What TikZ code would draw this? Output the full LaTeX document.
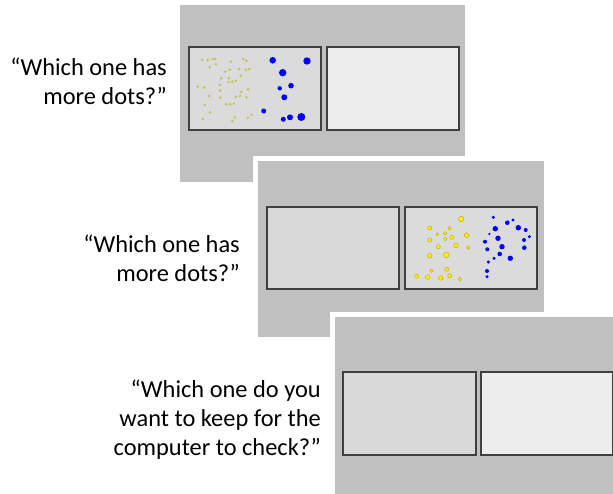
\documentclass[tikz,border=0pt]{standalone}
\usepackage{fontspec}
\setmainfont{Carlito}
\usepackage{tikz}
\usetikzlibrary{positioning}

\definecolor{panelgray}{HTML}{C0C0C0}
\definecolor{framegray}{HTML}{404040}
\definecolor{olivedot}{RGB}{200,192,80}
\definecolor{dotyellow}{HTML}{FFF000}
\definecolor{dotedge}{HTML}{C8B000}

\begin{document}
\begin{tikzpicture}[x=1pt, y=-1pt,
    panel/.style={fill=panelgray, draw=white, line width=5pt},
    screen/.style={draw=framegray, line width=1.5pt},
    prompt/.style={font=\fontsize{24.4}{29}\selectfont, align=right, anchor=base east, inner sep=0pt}]
    \useasboundingbox[fill=white] (0,0) rectangle (613,494);

    % first trial
    \draw[panel] (177.5,2.5) rectangle (467.5,184.5);
    \draw[screen, fill=black!14] (189,47) rectangle (321,130);
    \draw[screen, fill=black!7] (327,47) rectangle (459,130);
    \foreach \x/\y in {202/59.7, 207.7/60.3, 212.7/59, 215.3/59, 231/61.7, 243.3/59, 246.3/60.7,
        209.7/67.3, 216/64.3, 225.3/71.7, 229.7/69.7, 239.3/69, 245.7/69.7, 249.3/69,
        221.3/78.3, 228.7/78.3, 240.7/75.7, 228.3/82, 232.3/81.7, 236/80.7, 219.7/85,
        248/89.3, 197.7/86.7, 204.3/87.7, 220.3/90.7, 241.3/91.7, 208.7/96, 220.3/97.7,
        235.7/96.7, 240/96, 246.3/97.3, 204.7/105, 226.3/104.3, 230.3/104.3, 233.7/103.7,
        210/112.3, 234.7/117.3, 232.3/121, 247.7/117.7, 251.7/114.7, 203/119.3}
        \fill[olivedot] (\x,\y) circle (1.4pt);
    \foreach \x/\y/\r in {272.7/60.3/3.3, 307/61/3.7, 282.7/72.7/3.7, 291/85.7/2.8,
        279.7/88.3/2.2, 284.3/97.3/3, 263.7/111/2.5, 283.3/119.3/2.5, 290/117.3/3, 301.3/117/4}
        \fill[blue] (\x,\y) circle (\r pt);
    \node[prompt] (q1) at (167,105) {“Which one has\\ more dots?”};

    % second trial
    \draw[panel] (255.5,158.5) rectangle (546.5,339.5);
    \draw[screen, fill=black!15] (267,207) rectangle (399,289);
    \draw[screen, fill=black!14] (405,207) rectangle (537,289);
    \foreach \x/\y/\r in {461.3/219/2.7, 429.7/228/2, 449.7/228.3/1.7, 437.3/234.3/1.5,
        445/233.3/1.7, 451.7/237.3/2, 466.7/235.3/2.3, 429.7/240/2, 445.3/239/1.7,
        456/245.3/2.3, 438.3/246.7/2, 468.3/247.7/1.7, 429.7/255.7/2.3, 446.3/255/2.7,
        446.7/269.3/2, 431.3/270.7/1.7, 416.7/276.3/2, 427.7/277/2.3, 440.7/278/2.3,
        449.7/275.7/2, 459.7/279/1.7}
        \filldraw[fill=dotyellow, draw=dotedge, line width=0.5pt] (\x,\y) circle (\r pt);
    \foreach \x/\y/\r in {493.3/217.3/1.7, 507.3/222.7/2.3, 513/220/1.7, 495.3/228.7/2.7,
        518.3/227.7/2.7, 525.7/230/2, 489.3/234/1.3, 498/238.3/2.7, 529.3/236.7/1.7,
        485/241.7/2, 524/240/2, 502/246.7/2.7, 487.3/249.3/2, 524.3/247.7/2.3,
        499.7/254/2.3, 494/258.3/1.7, 510.3/258.3/2.7, 488.3/262/1.7, 487/271/2, 487/276.7/1.7}
        \fill[blue] (\x,\y) circle (\r pt);
    \node[prompt] (q2) at (240,282) {“Which one has\\ more dots?”};

    % third trial
    \draw[panel] (332.5,314.5) rectangle (640,520);
    \draw[screen, fill=black!15] (343,372) rectangle (476,455);
    \draw[screen, fill=black!7] (481,372) rectangle (612.5,455);
    \node[prompt] (q3) at (321,455) {“Which one do you\\ want to keep for the\\ computer to check?”};
\end{tikzpicture}
\end{document}
